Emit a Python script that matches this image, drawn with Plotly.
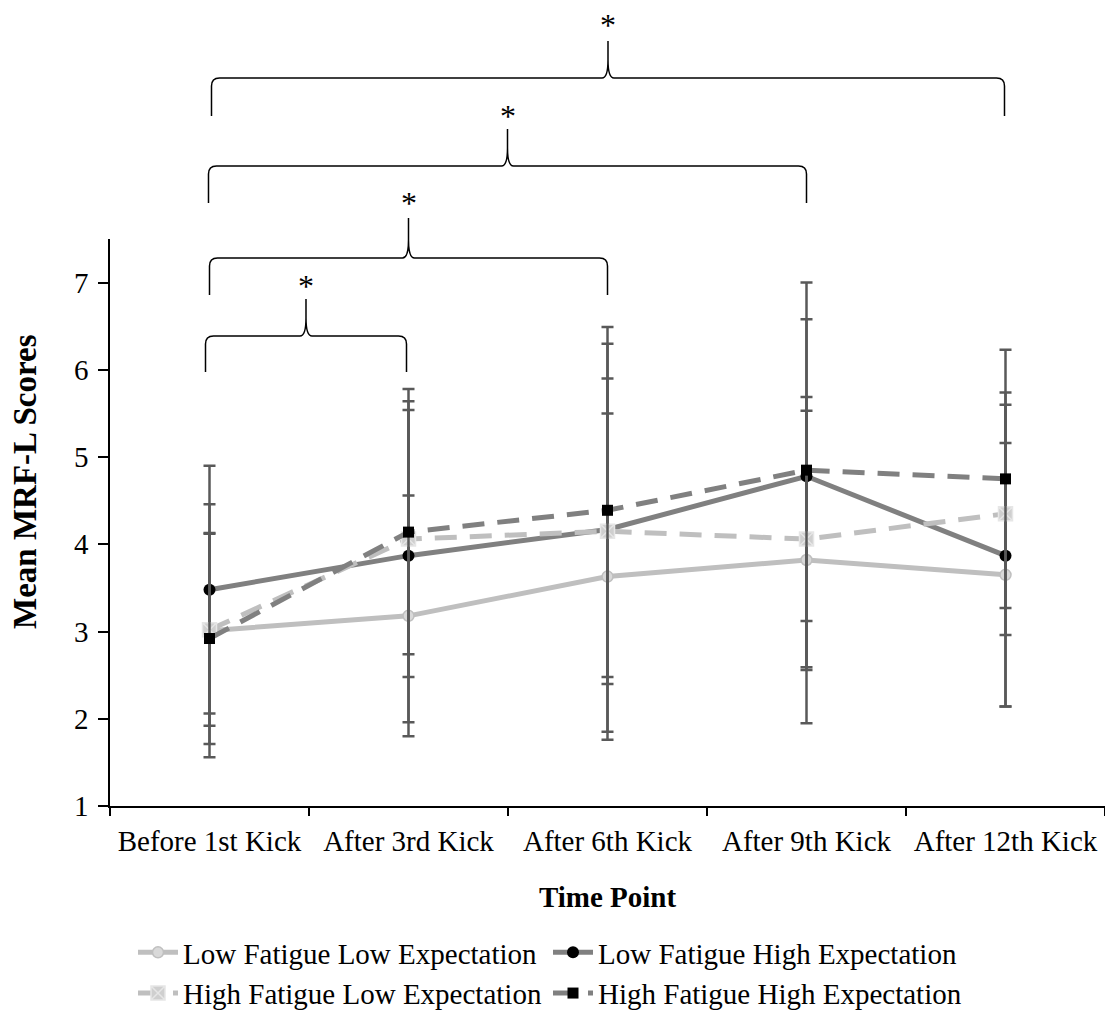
import plotly.graph_objects as go

categories = ["Before 1st Kick", "After 3rd Kick", "After 6th Kick", "After 9th Kick", "After 12th Kick"]

lfle = [3.01, 3.18, 3.63, 3.82, 3.65]
lfle_err = [1.45, 1.38, 1.87, 1.87, 1.51]
lfhe = [3.48, 3.87, 4.17, 4.78, 3.87]
lfhe_err = [1.42, 1.91, 2.32, 2.22, 1.73]
hfle = [3.02, 4.06, 4.15, 4.06, 4.35]
hfle_err = [1.10, 1.58, 1.75, 1.47, 1.39]
hfhe = [2.92, 4.14, 4.39, 4.85, 4.75]
hfhe_err = [1.21, 1.40, 1.91, 1.73, 1.48]

series_names = ["Low Fatigue Low Expectation", "Low Fatigue High Expectation",
                "High Fatigue Low Expectation", "High Fatigue High Expectation"]

# significance brackets: (start category, end category, level)
brackets = [(0, 1, 0), (0, 2, 1), (0, 3, 2), (0, 4, 3)]
star_text = "*"

FONT = "Liberation Serif, Times New Roman, serif"
# the page body has an 8px margin; the figure is sized to fill the rest of the window
PAGE_OFF = 8
W, H = 1113 - PAGE_OFF, 1014 - PAGE_OFF
# plot area in window pixels
PL, PR, PT, PB = 110, 1105, 239, 806
ML = PL - PAGE_OFF
MT = PT - PAGE_OFF
MR = W - (PR - PAGE_OFF)
MB = H - (PB - PAGE_OFF)
PW = PR - PL
PH = PB - PT

err_style = dict(type="data", visible=True, color="#595959", thickness=2.5, width=6)

fig = go.Figure()
specs = [
    (lfle, lfle_err, "#BFBFBF", "solid", dict(symbol="circle", size=11, color="#D9D9D9", line=dict(color="#BFBFBF", width=1.5))),
    (lfhe, lfhe_err, "#808080", "solid", dict(symbol="circle", size=12, color="#000000", line=dict(color="#000000", width=0))),
    (hfle, hfle_err, "#BFBFBF", "22px,13px", dict(symbol="square-x", size=14, color="#CFCFCF", line=dict(color="#E6E6E6", width=1.5))),
    (hfhe, hfhe_err, "#808080", "22px,13px", dict(symbol="square", size=11, color="#000000", line=dict(color="#000000", width=0))),
]
for (vals, errs, col, dash, mk), name in zip(specs, series_names):
    fig.add_trace(go.Scatter(
        x=categories, y=vals, name=name, mode="lines+markers",
        line=dict(color=col, width=5, dash=dash),
        marker=mk,
        error_y=dict(array=errs, **err_style),
    ))

def xp(px):
    return (px - PL) / PW

def yp(py):
    return (PB - py) / PH

shapes = []
annotations = []
# geometry of the brackets above the plot (window pixels)
levels = [
    dict(ybar=336, yend=372, ytop=299, star=282, off0=-4, off1=-2),
    dict(ybar=258, yend=295, ytop=218, star=199, off0=0, off1=0),
    dict(ybar=166, yend=203, ytop=129, star=112, off0=-1, off1=0),
    dict(ybar=78, yend=116, ytop=41, star=21, off0=2, off1=-1),
]
for a, b, lv in brackets:
    g = levels[lv]
    x0 = PL + (a + 0.5) * PW / len(categories) + g["off0"]
    x1 = PL + (b + 0.5) * PW / len(categories) + g["off1"]
    xm = (x0 + x1) / 2
    r = 8
    pts = lambda x, y: f"{xp(x):.5f},{yp(y):.5f}"
    path = (f"M {pts(x0, g['yend'])} L {pts(x0, g['ybar'] + r)} "
            f"Q {pts(x0, g['ybar'])} {pts(x0 + r, g['ybar'])} "
            f"L {pts(xm - 6, g['ybar'])} "
            f"Q {pts(xm, g['ybar'])} {pts(xm, g['ybar'] - 18)} "
            f"L {pts(xm, g['ytop'])} L {pts(xm, g['ybar'] - 18)} "
            f"Q {pts(xm, g['ybar'])} {pts(xm + 6, g['ybar'])} "
            f"L {pts(x1 - r, g['ybar'])} "
            f"Q {pts(x1, g['ybar'])} {pts(x1, g['ybar'] + r)} "
            f"L {pts(x1, g['yend'])}")
    shapes.append(dict(type="path", xref="paper", yref="paper", path=path,
                       line=dict(color="#000000", width=1.5)))
    annotations.append(dict(x=xp(xm), y=yp(g["star"] + 4), xref="paper", yref="paper",
                            text=star_text, showarrow=False, xanchor="center", yanchor="middle",
                            height=28, valign="middle",
                            font=dict(family=FONT, size=32, color="#000000")))

# y-axis title as free text (centred a little above the plot middle, as in the reference)
annotations.append(dict(x=xp(25), y=yp(482), xref="paper", yref="paper",
                        text="<b>Mean MRF-L Scores</b>", textangle=-90, showarrow=False,
                        xanchor="center", yanchor="middle",
                        font=dict(family=FONT, size=33, color="#000000")))

fig.update_layout(
    width=W, height=H,
    margin=dict(l=ML, r=MR, t=MT, b=MB, autoexpand=False),
    plot_bgcolor="white", paper_bgcolor="white",
    font=dict(family=FONT, size=28, color="#000000"),
    showlegend=True,
    legend=dict(orientation="h", x=xp(133), xanchor="left", y=yp(927), yanchor="top",
                font=dict(family=FONT, size=29, color="#000000"),
                entrywidth=360, entrywidthmode="pixels", tracegroupgap=0,
                itemwidth=40, bgcolor="rgba(0,0,0,0)"),
    shapes=shapes,
    annotations=annotations,
    xaxis=dict(type="category", range=[-0.5, 4.5], showline=True, linecolor="#000000", linewidth=1.5,
               ticks="outside", tickson="boundaries", ticklen=8, tickcolor="#000000", tickwidth=1.5,
               showgrid=False, zeroline=False, automargin=False, ticklabelstandoff=8,
               tickfont=dict(family=FONT, size=29, color="#000000"),
               title=dict(text="<b>Time Point</b>", font=dict(family=FONT, size=29, color="#000000"), standoff=31)),
    yaxis=dict(range=[1, 7.5], dtick=1, tick0=1, showline=True, linecolor="#000000", linewidth=1.5,
               ticks="outside", ticklen=10, tickcolor="#000000", tickwidth=1.5,
               showgrid=False, zeroline=False, automargin=False, ticklabelstandoff=4,
               tickfont=dict(family=FONT, size=29, color="#000000")),
)

fig.write_html("out.html")
